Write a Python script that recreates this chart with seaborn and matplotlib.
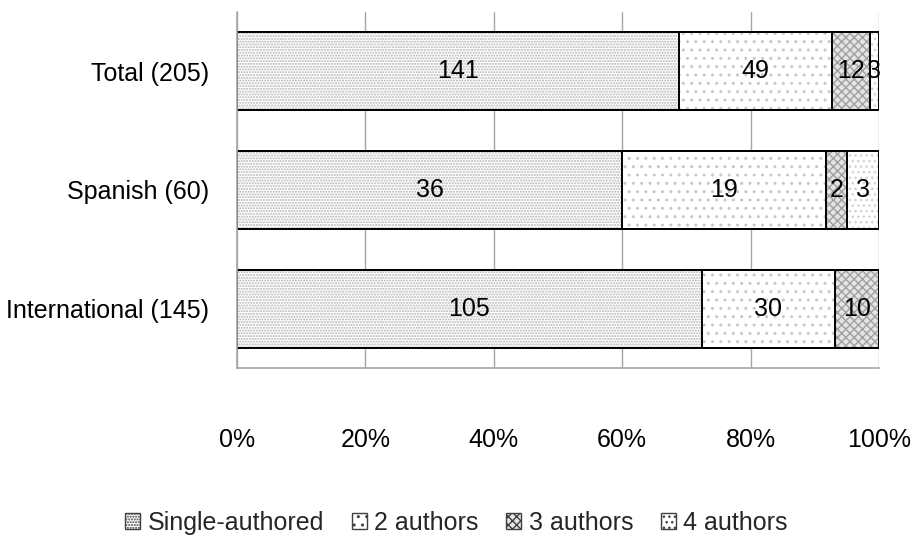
import numpy as np
import pandas as pd
import matplotlib
matplotlib.use("Agg")
import matplotlib.pyplot as plt
from matplotlib import font_manager
from matplotlib.patches import Patch
from matplotlib.ticker import PercentFormatter
import seaborn as sns

# Authorship counts per group of papers
categories = ["Total (205)", "Spanish (60)", "International (145)"]
single_authored = [141, 36, 105]
two_authors = [49, 19, 30]
three_authors = [12, 2, 10]
four_authors = [3, 3, 0]

series_names = ["Single-authored", "2 authors", "3 authors", "4 authors"]
series_values = [single_authored, two_authors, three_authors, four_authors]
x_ticks = [0, 0.2, 0.4, 0.6, 0.8, 1.0]

sns.set_theme(style="white")
installed = {f.name for f in font_manager.fontManager.ttflist}
if "Liberation Sans Narrow" in installed:
    family, fsize = "Liberation Sans Narrow", 22
else:
    family, fsize = "Liberation Sans", 18
plt.rcParams["font.family"] = [family, "DejaVu Sans"]

# Fill style for each series: face colour, hatch pattern, hatch colour
styles = [
    ("white", "......", "#b4b4b4"),
    ("white", "..", "#c8c8c8"),
    ("#e4e4e4", "xxxx", "#a0a0a0"),
    ("white", "...", "#d2d2d2"),
]

counts = np.array(series_values, dtype=float)
totals = counts.sum(axis=0)
shares = counts / totals
cumulative = np.cumsum(shares, axis=0)

df = pd.DataFrame({"category": categories})
for i, name in enumerate(series_names):
    df[name] = cumulative[i]

fig = plt.figure(figsize=(9.13, 5.48), dpi=100)
ax = fig.add_axes([237 / 913, 1 - 368 / 548, 642 / 913, 356 / 548])

bar_width = 0.66
# Stacked bars: draw cumulative shares from the outermost segment inward
for i in reversed(range(len(series_names))):
    face, hatch, hcolor = styles[i]
    plt.rcParams["hatch.color"] = hcolor
    sns.barplot(data=df, x=series_names[i], y="category", orient="h",
                color=face, saturation=1, width=bar_width, hatch=hatch,
                edgecolor=hcolor, linewidth=0, ax=ax)
# Segment outlines
for i in range(len(series_names)):
    sns.barplot(data=df, x=series_names[i], y="category", orient="h",
                fill=False, width=bar_width, edgecolor="black",
                linewidth=1.4, ax=ax)

# Value labels centred in each segment
for i in range(len(series_names)):
    for j, cat in enumerate(categories):
        if counts[i, j] > 0:
            center = cumulative[i, j] - shares[i, j] / 2
            ax.text(center, j, f"{int(counts[i, j])}", ha="center",
                    va="center", fontsize=fsize, color="black")

ax.set_xlim(0, 1)
ax.set_ylim(2.5, -0.5)
ax.set_xticks(x_ticks)
ax.xaxis.set_major_formatter(PercentFormatter(1.0, decimals=0))
ax.set_xlabel("")
ax.set_ylabel("")
ax.grid(axis="x", color="#a6a6a6", linewidth=1)
ax.grid(axis="y", visible=False)
ax.set_axisbelow(True)
for side in ["top", "right"]:
    ax.spines[side].set_visible(False)
for side in ["left", "bottom"]:
    ax.spines[side].set_color("#a6a6a6")
    ax.spines[side].set_linewidth(1.2)
ax.tick_params(axis="x", length=0, pad=43, labelsize=fsize, colors="black")
ax.tick_params(axis="y", length=0, pad=20, labelsize=fsize, colors="black")

handles = []
for face, hatch, hcolor in styles:
    try:
        h = Patch(facecolor=face, hatch=hatch, edgecolor="#404040",
                  hatchcolor=hcolor, linewidth=1)
    except (AttributeError, TypeError):
        plt.rcParams["hatch.color"] = hcolor
        h = Patch(facecolor=face, hatch=hatch, edgecolor="#404040",
                  linewidth=1)
    handles.append(h)
leg = fig.legend(handles, series_names, loc="center",
                 bbox_to_anchor=(0.5, 1 - 523 / 548), ncol=4, frameon=False,
                 fontsize=fsize, handlelength=0.6, handleheight=0.6,
                 handletextpad=0.3, columnspacing=1.1)

fig.savefig("out.png", dpi=100)
